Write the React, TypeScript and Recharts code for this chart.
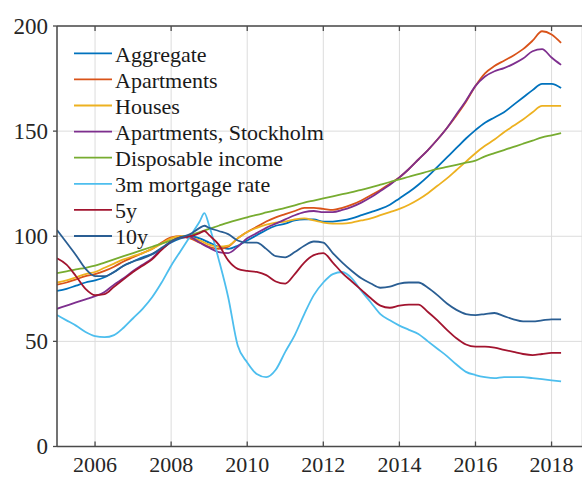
import React from 'react';
import { LineChart, Line, XAxis, YAxis, CartesianGrid } from 'recharts';

const years = [
  2005, 2005.25, 2005.5, 2005.75,
  2006, 2006.25, 2006.5, 2006.75,
  2007, 2007.25, 2007.5, 2007.75,
  2008, 2008.25, 2008.5, 2008.75, 2008.875,
  2009, 2009.25, 2009.5, 2009.75,
  2010, 2010.25, 2010.5, 2010.75,
  2011, 2011.25, 2011.5, 2011.75,
  2012, 2012.25, 2012.5, 2012.75,
  2013, 2013.25, 2013.5, 2013.75,
  2014, 2014.25, 2014.5, 2014.75,
  2015, 2015.25, 2015.5, 2015.75,
  2016, 2016.25, 2016.5, 2016.75,
  2017, 2017.25, 2017.5, 2017.75,
  2018, 2018.25,
];

const aggregate = [
  74, 75, 76.5, 78,
  79, 80.5, 83, 86,
  88, 90, 91.5, 94,
  97, 99, 100, 99, null,
  97, 95, 94, 95.5,
  98, 100.5, 103, 105,
  106, 107.5, 108, 108,
  107, 107, 107.5, 108.5,
  110, 111.5, 113, 115,
  118, 121, 124.5, 128.5,
  133, 137.5, 142, 146.5,
  150.5, 154, 156.5, 159,
  162.5, 166, 169.5, 172.5,
  172.5, 170.5,
];

const apartments = [
  77, 78, 79.5, 81,
  82, 83.5, 85.5, 88,
  90, 92, 94, 97,
  99.5, 100, 99, 97, null,
  95, 94, 95, 99,
  102, 104.5, 107, 109,
  110.5, 112, 113.5, 113.5,
  113, 112.5, 113.5, 115,
  117, 119.5, 122, 125,
  128, 132, 136.5, 141,
  146, 151.5, 157.5, 164,
  171.5, 177.5, 181, 183.5,
  186, 189, 193, 197.5,
  196, 192,
];

const houses = [
  78, 79, 80.5, 82,
  83, 85, 87, 89,
  90.5, 92, 94, 96.5,
  99, 100, 99.5, 98, null,
  96, 95, 95.5, 99,
  102, 104, 105.5, 106.5,
  107, 108, 108.5, 107.5,
  106.5, 106, 106, 106.5,
  107.5, 108.5, 110, 111.5,
  113, 115, 117.5, 120.5,
  124, 127.5, 131.5, 135.5,
  139.5, 143, 146, 149.5,
  152.5, 155.5, 159, 162,
  162, 162,
];

const stockholm = [
  65.5, 67, 68.5, 70,
  71.5, 73.5, 77, 80,
  83.5, 86.5, 89.5, 94,
  97.5, 99.5, 99.5, 97, null,
  94.5, 92.5, 92, 95,
  99, 101.5, 104, 106,
  108, 110, 111.5, 112,
  111.5, 111.5, 112.5, 114,
  116, 118.5, 121.5, 124.5,
  128, 132, 136.5, 141,
  146, 151.5, 158, 164.5,
  171.5, 176, 178.5, 180,
  182, 184.5, 188, 189,
  185, 181.5,
];

const income = [
  82.5, 83.3, 84.2, 85,
  86, 87.5, 89, 90.5,
  92, 93.5, 95, 96.5,
  98, 99.5, 100.5, 102, null,
  103.5, 105, 106.5, 107.8,
  109, 110.2, 111.3, 112.4,
  113.5, 114.7, 116, 117,
  118, 119, 120, 121,
  122, 123.2, 124.5, 125.8,
  127, 128.3, 129.5, 130.8,
  132, 133, 134, 135,
  136, 138, 139.5, 141,
  142.5, 144, 145.5, 147,
  148, 149,
];

const mortgage3m = [
  62.5, 60, 57.5, 54.5,
  52.5, 52, 53, 56.5,
  61, 65.5, 71, 78,
  86, 93, 100, 107, 111,
  105, 89, 71, 48,
  40, 34.5, 33, 36.5,
  45, 53, 63, 72,
  78, 82, 83, 80,
  74, 68.5, 63, 60,
  57.5, 55.5, 53.5, 50,
  46.5, 43, 39, 35.5,
  34, 33, 32.5, 33,
  33, 33, 32.5, 32,
  31.5, 31,
];

const rate5y = [
  89.5, 86.5, 81, 75,
  72, 72.5, 76, 79.5,
  83, 86, 89, 93.5,
  97.5, 99.5, 100, 101.5, 102.5,
  100.5, 96, 88.5, 84.5,
  83.5, 83, 81.5, 78.5,
  77.5, 82, 87.5, 91,
  92, 87.5, 82.5, 78.5,
  74.5, 70.5, 67, 66,
  67, 67.5, 67.5, 64,
  60, 55.5, 51.5, 48.5,
  47.5, 47.5, 47, 46,
  45, 44, 43.5, 44,
  44.5, 44.5,
];

const rate10y = [
  103, 97, 91, 84.5,
  81, 81, 83, 86,
  88, 89.5, 91.5, 94.5,
  97.5, 99.5, 101, 104, 105,
  104, 102.5, 101, 98,
  97, 97, 94, 90.5,
  90, 92.5, 95.5, 97.5,
  97, 92, 87.5, 83.5,
  80, 77.5, 75.5, 76,
  77.5, 78, 78, 75.5,
  72, 68, 65, 63,
  62.5, 63, 63.5, 62,
  60.5, 59.5, 59.5, 60,
  60.5, 60.5,
];

const xTicks = [2006, 2008, 2010, 2012, 2014, 2016, 2018];
const yTicks = [0, 50, 100, 150, 200];

const series = [
  { key: 'aggregate', name: 'Aggregate', color: '#0072BD', values: aggregate },
  { key: 'apartments', name: 'Apartments', color: '#D95319', values: apartments },
  { key: 'houses', name: 'Houses', color: '#EDB120', values: houses },
  { key: 'stockholm', name: 'Apartments, Stockholm', color: '#7E2F8E', values: stockholm },
  { key: 'income', name: 'Disposable income', color: '#77AC30', values: income },
  { key: 'm3', name: '3m mortgage rate', color: '#4DBEEE', values: mortgage3m },
  { key: 'y5', name: '5y', color: '#A2142F', values: rate5y },
  { key: 'y10', name: '10y', color: '#2A5E93', values: rate10y },
];

const rows = years.map((year, i) => {
  const row: any = { year };
  series.forEach((s) => {
    row[s.key] = s.values[i];
  });
  return row;
});

const FONT = 'Liberation Serif, Times New Roman, serif';
const AXIS = '#4a4a4a';
const TEXT = '#262626';

const BottomTick = (props: any) => {
  const { x, y, payload } = props;
  return (
    <g>
      <line x1={x} x2={x} y1={y} y2={y - 5} stroke={AXIS} strokeWidth={1.3} />
      <text x={x} y={y + 25.5} textAnchor="middle" fontSize={22} fontFamily={FONT} fill={TEXT}>
        {payload.value}
      </text>
    </g>
  );
};

const TopTick = (props: any) => {
  const { x, y } = props;
  return <line x1={x} x2={x} y1={y} y2={y + 5} stroke={AXIS} strokeWidth={1.3} />;
};

const LeftTick = (props: any) => {
  const { x, y, payload } = props;
  return (
    <text x={x} y={y} dy="0.34em" textAnchor="end" fontSize={23} fontFamily={FONT} fill={TEXT}>
      {payload.value}
    </text>
  );
};

const LegendOverlay = () => (
  <svg
    width={582}
    height={477}
    style={{ position: 'absolute', left: 0, top: 0, pointerEvents: 'none' }}
  >
    {series.map((s, i) => {
      const cy = 53.3 + 26.1 * i;
      return (
        <g key={s.key}>
          <line x1={74} x2={112} y1={cy} y2={cy} stroke={s.color} strokeWidth={1.8} />
          <text x={115} y={cy + 8.3} fontSize={22} fontFamily={FONT} fill="#1a1a1a">
            {s.name}
          </text>
        </g>
      );
    })}
  </svg>
);

export default function App() {
  return (
    <div style={{ position: 'absolute', left: 0, top: 0, width: 582, height: 477, background: '#fff', fontFamily: FONT }}>
      <LineChart
        width={582}
        height={477}
        data={rows}
        margin={{ top: 25, right: 0, bottom: 0, left: 0 }}
      >
        <CartesianGrid stroke="#dcdcdc" strokeWidth={1} />
        <XAxis
          dataKey="year"
          type="number"
          domain={[2005, 2018.8]}
          ticks={xTicks}
          allowDataOverflow
          height={30.5}
          axisLine={{ stroke: AXIS, strokeWidth: 1.5 }}
          tickLine={false}
          tickSize={0}
          tickMargin={0}
          tick={<BottomTick />}
          interval={0}
        />
        <XAxis
          xAxisId="top"
          orientation="top"
          dataKey="year"
          type="number"
          domain={[2005, 2018.8]}
          ticks={xTicks}
          allowDataOverflow
          height={1}
          axisLine={{ stroke: AXIS, strokeWidth: 1.5 }}
          tickLine={false}
          tickSize={0}
          tickMargin={0}
          tick={<TopTick />}
          interval={0}
        />
        <YAxis
          type="number"
          domain={[0, 200]}
          ticks={yTicks}
          width={57}
          interval={0}
          axisLine={{ stroke: AXIS, strokeWidth: 1.5 }}
          tickLine={{ stroke: AXIS, strokeWidth: 1.3 }}
          tickSize={4}
          tickMargin={5}
          tick={<LeftTick />}
        />
        {series.map((s) => (
          <Line
            key={s.key}
            type="monotone"
            dataKey={s.key}
            name={s.name}
            stroke={s.color}
            strokeWidth={1.8}
            dot={false}
            connectNulls
            isAnimationActive={false}
          />
        ))}
      </LineChart>
      <LegendOverlay />
    </div>
  );
}
